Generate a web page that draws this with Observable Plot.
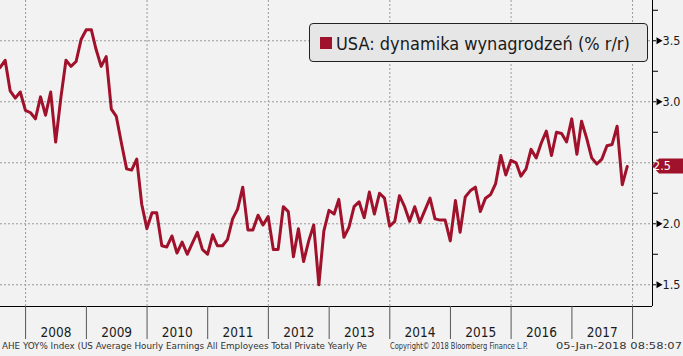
<!DOCTYPE html>
<html>
<head>
<meta charset="utf-8">
<script src="https://cdn.jsdelivr.net/npm/d3@7"></script>
<script src="https://cdn.jsdelivr.net/npm/@observablehq/plot@0.6"></script>
<style>
html,body{margin:0;padding:0;background:#f2f2f2;}
#wrap{position:relative;width:683px;height:356px;overflow:hidden;font-family:"DejaVu Sans Condensed","DejaVu Sans",sans-serif;}
#chart{position:absolute;left:0;top:0;}
#legend{position:absolute;left:309px;top:23px;width:337px;height:37px;border:1px solid #222;border-radius:4px;background:#e6e6e6;}
#legend .sw{position:absolute;left:10px;top:13px;width:12px;height:12px;background:#a0112b;}
#legend .lt{position:absolute;left:26px;top:11px;font-size:18px;line-height:18px;color:#1a1a1a;white-space:nowrap;}
#footer{position:absolute;left:0;top:340px;width:683px;height:16px;font-size:9px;line-height:9px;color:#333;}
#footer span{position:absolute;top:2px;white-space:nowrap;display:inline-block;transform-origin:0 50%;}
</style>
</head>
<body>
<div id="wrap">
  <div id="chart"></div>
  <div id="legend"><div class="sw"></div><div class="lt" id="legendText"></div></div>
  <div id="footer">
    <span id="f1" style="left:2px"></span>
    <span id="f2" style="left:390px"></span>
    <span id="f3" style="left:556px"></span>
  </div>
</div>
<script>
// ---- data (month-end observations, first = Jul 2007, last = Nov 2017) ----
const startYear = 2007;
const startMonth = 7;
const values = [
  3.28, 3.34, 3.09, 3.03, 3.08,
  2.93, 2.91, 2.86, 3.04, 2.89, 3.08, 2.67, 3.03, 3.34, 3.29, 3.33, 3.51,
  3.59, 3.59, 3.43, 3.29, 3.37, 2.94, 2.88, 2.66, 2.45, 2.44, 2.53, 2.16,
  1.96, 2.09, 2.09, 1.82, 1.81, 1.90, 1.76, 1.85, 1.75, 1.84, 1.93, 1.79,
  1.75, 1.91, 1.82, 1.82, 1.87, 2.04, 2.12, 2.30, 1.95, 1.95, 2.07, 1.99,
  2.06, 1.79, 1.79, 2.14, 2.10, 1.73, 1.96, 1.69, 1.86, 1.99, 1.50, 1.94,
  2.11, 2.08, 2.20, 1.89, 1.97, 2.14, 2.18, 2.05, 2.26, 2.08, 2.25, 2.21,
  1.98, 2.02, 2.23, 2.14, 2.02, 2.14, 2.01, 2.11, 2.21, 2.04, 2.03, 2.03,
  1.86, 2.19, 1.93, 2.22, 2.27, 2.30, 2.10, 2.21, 2.24, 2.33, 2.56, 2.40,
  2.52, 2.50, 2.39, 2.45, 2.61, 2.54, 2.66, 2.76, 2.56, 2.75, 2.74, 2.67,
  2.86, 2.57, 2.84, 2.70, 2.54, 2.49, 2.53, 2.64, 2.65, 2.80, 2.32, 2.47
];
const yTicks = [1.5, 2.0, 2.5, 3.0, 3.5];
const yMinorTicks = [1.75, 2.25, 2.75, 3.25, 3.75];
const yearLabels = [2008, 2009, 2010, 2011, 2012, 2013, 2014, 2015, 2016, 2017];
const yearBoundaries = [2008, 2009, 2010, 2011, 2012, 2013, 2014, 2015, 2016, 2017, 2018];
const gridYears = [2008, 2010, 2012, 2014, 2016, 2018];
const seriesName = "USA: dynamika wynagrodzeń (% r/r)";
const footerLeft = "AHE YOY% Index (US Average Hourly Earnings All Employees Total Private Yearly Pe";
const footerMid = "Copyright© 2018 Bloomberg Finance L.P.";
const footerRight = "05-Jan-2018 08:58:07";

// ---- build ----
const data = values.map((v, i) => ({
  date: new Date(Date.UTC(startYear, startMonth - 1 + i + 1, 0)),
  value: v
}));
const W = 683, H = 340, mR = 31, mB = 34;
const xDomain = [new Date(Date.UTC(2007, 7, 3)), new Date(Date.UTC(2018, 4, 1))];
const yDomain = [1.322, 3.83];
const red = "#a0112b";
const gridStyle = {stroke: "#9a9a9a", strokeOpacity: 1, strokeDasharray: "2,2"};
const font = '"DejaVu Sans Condensed","DejaVu Sans",sans-serif';

const plot = Plot.plot({
  width: W, height: H,
  marginLeft: 0, marginRight: mR, marginTop: 0, marginBottom: mB,
  style: {background: "transparent", fontFamily: font, color: "#1a1a1a", overflow: "visible"},
  x: {type: "utc", domain: xDomain, label: null},
  y: {domain: yDomain, label: null},
  marks: [
    Plot.gridY(yTicks, gridStyle),
    Plot.gridX(gridYears.map(y => new Date(Date.UTC(y, 0, 1))), gridStyle),
    Plot.line(data, {x: "date", y: "value", stroke: red, strokeWidth: 3, strokeLinejoin: "round"}),
    Plot.ruleY([yDomain[0]], {stroke: "#000"}),
    Plot.ruleX([xDomain[1]], {stroke: "#000"}),
    Plot.axisX(yearBoundaries.map(y => new Date(Date.UTC(y, 0, 1))), {anchor: "bottom", tickSize: 33, stroke: "#555", tickFormat: () => "", label: null}),
    Plot.axisX(yearLabels.map(y => new Date(Date.UTC(y, 6, 2))), {anchor: "bottom", tickSize: 0, tickPadding: 21, tickFormat: d => String(d.getUTCFullYear()), fontSize: 13.5, fill: "#1a1a1a", label: null}),
    Plot.axisY(yMinorTicks, {anchor: "right", tickSize: 5, stroke: "#000", tickFormat: () => "", label: null}),
    Plot.axisY(yTicks, {anchor: "right", tickSize: 3, stroke: "#000", tickPadding: 7, tickFormat: d => d === 2.5 ? "" : d.toFixed(1), fontSize: 12.5, fill: "#1a1a1a", label: null}),
    Plot.dot(yTicks, {y: d => d, frameAnchor: "right", dx: 6, symbol: "triangle", rotate: 90, r: 2.6, fill: "#000", stroke: null})
  ]
});
document.getElementById("chart").appendChild(plot);

// last-value tag on the right axis
const last = values[values.length - 1];
const cy = plot.scale("y").apply(last);
const fr = W - mR;
const svg = d3.select(plot);
svg.append("path")
  .attr("d", `M${fr},${cy} L${fr + 7},${cy - 7.5} H${W} V${cy + 7.5} H${fr + 7} Z`)
  .attr("fill", red);
svg.append("text")
  .attr("x", fr + 10).attr("y", cy).attr("dy", "0.36em")
  .attr("fill", "#ffffff").attr("font-size", 12.5).attr("font-family", font)
  .text(last.toFixed(1));

document.getElementById("legendText").textContent = seriesName;
// footer texts, each squeezed to the width it takes in the reference
const footer = [["f1", footerLeft, 365], ["f2", footerMid, 138], ["f3", footerRight, 126]];
for (const [id, txt, target] of footer) {
  const el = document.getElementById(id);
  el.textContent = txt;
  const w = el.getBoundingClientRect().width;
  if (w > 0) el.style.transform = `scaleX(${target / w})`;
}
</script>
</body>
</html>
